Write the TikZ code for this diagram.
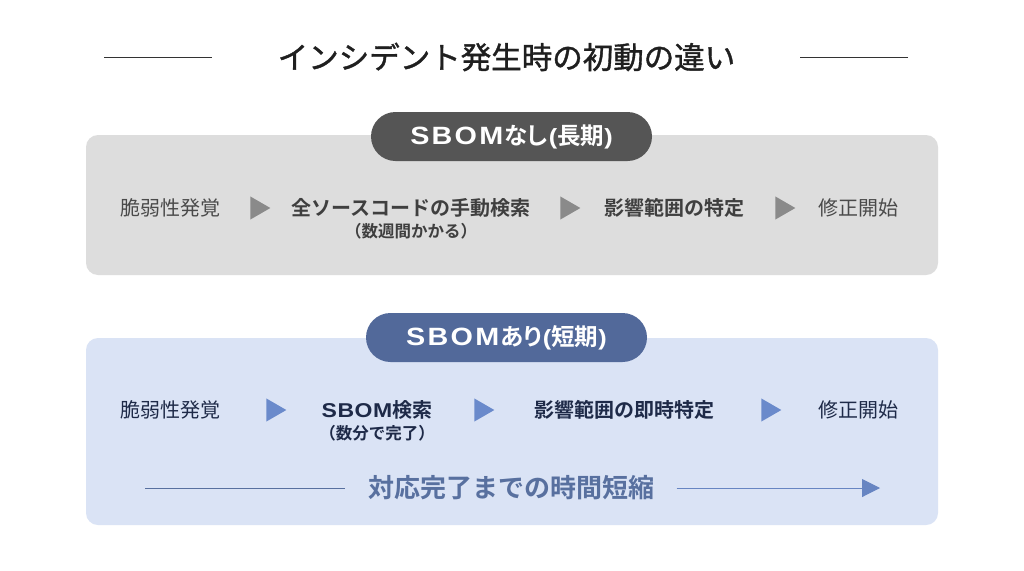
\documentclass[tikz,border=0pt]{standalone}
\usepackage{fontspec}
\newfontfamily\jp{Noto Sans CJK JP}[BoldFont={Noto Sans CJK JP Bold}]
\newfontfamily\jpp{Noto Sans CJK JP}[BoldFont={Noto Sans CJK JP Bold},RawFeature=+palt]
\newfontfamily\jpmed{Noto Sans CJK JP}[FakeBold=1.2]
\newfontfamily\lat{Liberation Sans}[FakeStretch=1.15]
\usetikzlibrary{shapes.geometric,arrows.meta}
\definecolor{boxgray}{HTML}{DDDDDD}
\definecolor{pillgray}{HTML}{555555}
\definecolor{txtgray}{HTML}{4A4A4A}
\definecolor{arrgray}{HTML}{8A8A8A}
\definecolor{boxblue}{HTML}{DAE3F5}
\definecolor{pillblue}{HTML}{52699A}
\definecolor{txtnavy}{HTML}{1E2A48}
\definecolor{arrblue}{HTML}{6A8ACB}
\definecolor{midblue}{HTML}{58709F}
\newcommand\pilltext[2]{{\lat\bfseries\fontsize{25}{28}\selectfont\addfontfeature{LetterSpace=9}SBOM}\kern1pt#1{\lat\bfseries\fontsize{22}{26}\selectfont\kern1pt(}#2{\lat\bfseries\fontsize{22}{26}\selectfont)}}
\tikzset{
  panel/.style={rounded corners=12pt, draw=none},
  pill/.style={rounded corners=24.5pt, minimum width=281pt, minimum height=49pt, inner sep=0pt, text=white, font=\jpp\bfseries\fontsize{23.5}{27}\selectfont},
  steptxt/.style={inner sep=0pt, font=\jp\fontsize{20}{24}\selectfont},
  stepbold/.style={inner sep=0pt, font=\jp\bfseries\fontsize{20}{24}\selectfont},
  subtxt/.style={inner sep=0pt, font=\jp\bfseries\fontsize{16.5}{20}\selectfont},
  tri/.style={shape=isosceles triangle, isosceles triangle apex angle=60, minimum width=20pt, minimum height=20pt, inner sep=0pt, draw=none},
}
\begin{document}
\begin{tikzpicture}[x=1pt,y=-1pt]
\useasboundingbox (0,0) rectangle (1024,570);
\fill[white] (0,0) rectangle (1024,570);
% title
\node[inner sep=0pt, font=\jpmed\fontsize{30.5}{36}\selectfont, text=black!88] (title) at (506.5,57) {インシデント発生時の初動の違い};
\coordinate (tl1) at (104,57);
\coordinate (tr2) at (908,57);
\draw[line width=1pt, black!80] (tl1) -- ++(108,0);
\draw[line width=1pt, black!80] (tr2) -- ++(-108,0);
% panel 1
\fill[panel, boxgray] (86,135) rectangle (938,275);
\node[pill, fill=pillgray] (p1) at (511.5,136.5) {\pilltext{なし}{長期}};
\node[steptxt, text=txtgray] (a1) at (170,208) {脆弱性発覚};
\node[tri, fill=arrgray] (r1) at (257,208) {};
\node[stepbold, text=txtgray!85!black] (a2) at (411,208) {全ソースコードの手動検索};
\node[subtxt, text=txtgray!85!black] (a2s) at (411,231) {（数週間かかる）};
\node[tri, fill=arrgray] (r2) at (567,208) {};
\node[stepbold, text=txtgray!85!black] (a3) at (674,208) {影響範囲の特定};
\node[tri, fill=arrgray] (r3) at (782,208) {};
\node[steptxt, text=txtgray] (a4) at (858,208) {修正開始};
% panel 2
\fill[panel, boxblue] (86,338) rectangle (938,525);
\node[pill, fill=pillblue] (p2) at (506.5,337.5) {\pilltext{あり}{短期}};
\node[steptxt, text=txtnavy] (b1) at (170,410) {脆弱性発覚};
\node[tri, fill=arrblue] (s1) at (273,410) {};
\node[stepbold, text=txtnavy] (b2) at (377,410) {{\lat\bfseries\addfontfeature{LetterSpace=3}SBOM}検索};
\node[subtxt, text=txtnavy] (b2s) at (377,433) {（数分で完了）};
\node[tri, fill=arrblue] (s2) at (481,410) {};
\node[stepbold, text=txtnavy] (b3) at (624,410) {影響範囲の即時特定};
\node[tri, fill=arrblue] (s3) at (768,410) {};
\node[steptxt, text=txtnavy] (b4) at (858,410) {修正開始};
% bottom
\node[inner sep=0pt, font=\jp\bfseries\fontsize{26}{30}\selectfont, text=midblue] (c) at (511.5,488) {対応完了までの時間短縮};
\coordinate (cl) at (145,488);
\coordinate (cr) at (880,488);
\draw[line width=1pt, midblue] (cl) -- ([xshift=-23pt]c.west |- cl);
\draw[line width=1pt, midblue, -{Triangle[length=18pt,width=18pt]}, arrblue!80!midblue] ([xshift=22pt]c.east |- cr) -- (cr);
\end{tikzpicture}
\end{document}
